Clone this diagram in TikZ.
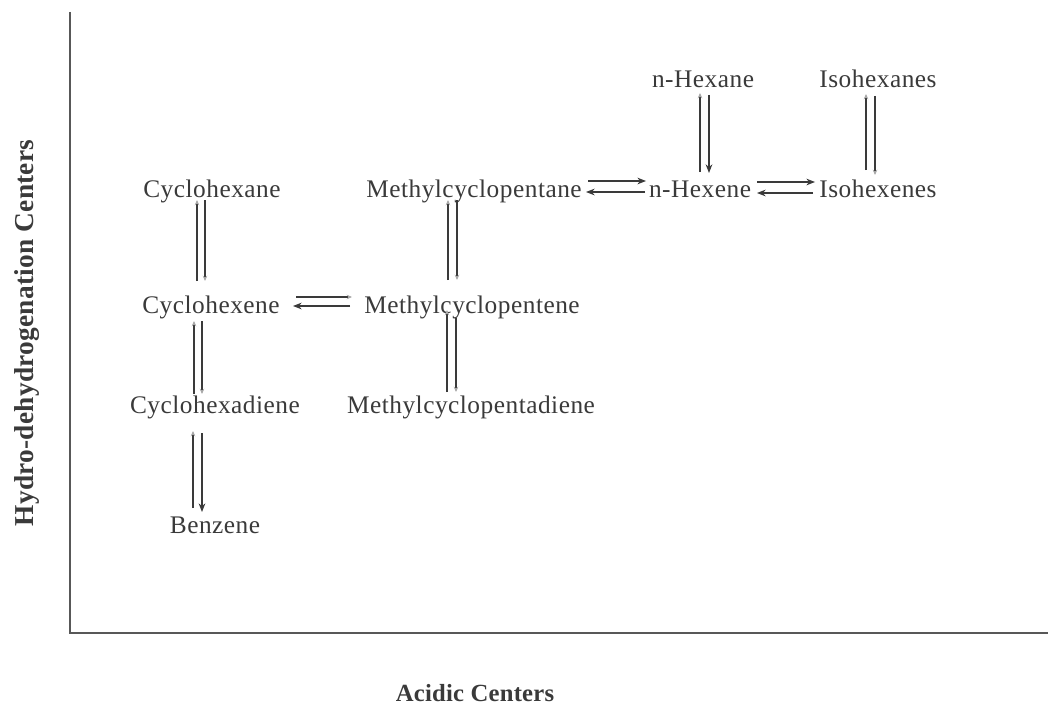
\documentclass[tikz,border=0pt]{standalone}
\usepackage{fontspec}
\setmainfont{Liberation Serif}[LetterSpace=2]
\newfontfamily\axisfont[LetterSpace=1]{Liberation Serif}
\usetikzlibrary{arrows.meta,calc}
\definecolor{ink}{HTML}{3A3A3A}
\definecolor{faint}{HTML}{A8A8A8}
\begin{document}
\begin{tikzpicture}[x=0.75pt,y=-0.75pt,
  chem/.style={font=\fontsize{19}{22}\selectfont, text=ink, inner sep=0pt, anchor=base},
  axislabel/.style={text=ink, inner sep=0pt, anchor=base},
  axisline/.style={draw=ink!85, line width=1.1pt},
  rx/.style={draw=ink, line width=0.8pt},
  boldtip/.style={rx, -{Stealth[length=6.5pt,width=5pt]}},
  fainttip/.style={rx, -{Stealth[length=4pt,width=3.5pt,color=faint]}}]
\useasboundingbox (0,0) rectangle (1048,706);

% axes
\coordinate (top) at (70,12);
\coordinate (origin) at (70,633);
\coordinate (right) at (1048,633);
\draw[axisline] (top) -- (origin) -- (right);
\node[axislabel, rotate=90, font=\axisfont\bfseries\fontsize{20.5}{24}\selectfont] (yl) at (33,333) {Hydro-dehydrogenation Centers};
\node[axislabel, font=\axisfont\bfseries\fontsize{18.5}{22}\selectfont] (xl) at (475,701) {Acidic Centers};

% species
\node[chem] (CH)   at (212,197) {Cyclohexane};
\node[chem] (MCP)  at (474,197) {Methylcyclopentane};
\node[chem] (NHA)  at (703,88)  {n-Hexane};
\node[chem] (IHA)  at (878,88)  {Isohexanes};
\node[chem] (NHE)  at (700,197) {n-Hexene};
\node[chem] (IHE)  at (878,197) {Isohexenes};
\node[chem] (CHe)  at (211,313) {Cyclohexene};
\node[chem] (MCPe) at (472,313) {Methylcyclopentene};
\node[chem] (CHd)  at (215,413) {Cyclohexadiene};
\node[chem] (MCPd) at (471,413) {Methylcyclopentadiene};
\node[chem] (BZ)   at (215,533) {Benzene};

% Cyclohexane <-> Cyclohexene
\draw[fainttip] ($(CHe.base)+(-14,-32)$) -- ($(CH.base)+(-15,3)$);
\draw[fainttip] ($(CH.base)+(-7,3)$) -- ($(CHe.base)+(-6,-32)$);
% Cyclohexene <-> Cyclohexadiene
\draw[fainttip] ($(CHd.base)+(-21,-19)$) -- ($(CHe.base)+(-17,8)$);
\draw[fainttip] ($(CHe.base)+(-9,8)$) -- ($(CHd.base)+(-13,-19)$);
% Cyclohexadiene <-> Benzene
\draw[fainttip] ($(BZ.base)+(-22,-25)$) -- ($(CHd.base)+(-22,18)$);
\draw[boldtip] ($(CHd.base)+(-13,20)$) -- ($(BZ.base)+(-13,-21)$);
% Methylcyclopentane <-> Methylcyclopentene
\draw[fainttip] ($(MCPe.base)+(-24,-33)$) -- ($(MCP.base)+(-26,3)$);
\draw[fainttip] ($(MCP.base)+(-17,3)$) -- ($(MCPe.base)+(-15,-33)$);
% Methylcyclopentene <-> Methylcyclopentadiene
\draw[fainttip] ($(MCPd.base)+(-24,-21)$) -- ($(MCPe.base)+(-25,-3)$);
\draw[fainttip] ($(MCPe.base)+(-16,5)$) -- ($(MCPd.base)+(-15,-21)$);
% n-Hexane <-> n-Hexene
\draw[fainttip] ($(NHE.base)+(0,-25)$) -- ($(NHA.base)+(-3,5)$);
\draw[boldtip] ($(NHA.base)+(6,7)$) -- ($(NHE.base)+(9,-24)$);
% Isohexanes <-> Isohexenes
\draw[fainttip] ($(IHE.base)+(-12,-27)$) -- ($(IHA.base)+(-12,6)$);
\draw[fainttip] ($(IHA.base)+(-3,8)$) -- ($(IHE.base)+(-3,-22)$);
% Cyclohexene <-> Methylcyclopentene
\draw[fainttip] ($(CHe.base)+(85,-16)$) -- ($(MCPe.base)+(-120,-16)$);
\draw[boldtip] ($(MCPe.base)+(-122,-7)$) -- ($(CHe.base)+(82,-7)$);
% Methylcyclopentane <-> n-Hexene
\draw[boldtip] ($(MCP.base)+(114,-16)$) -- ($(NHE.base)+(-54,-16)$);
\draw[boldtip] ($(NHE.base)+(-55,-5)$) -- ($(MCP.base)+(112,-5)$);
% n-Hexene <-> Isohexenes
\draw[boldtip] ($(NHE.base)+(57,-15)$) -- ($(IHE.base)+(-63,-15)$);
\draw[boldtip] ($(IHE.base)+(-65,-4)$) -- ($(NHE.base)+(57,-4)$);
\end{tikzpicture}
\end{document}
